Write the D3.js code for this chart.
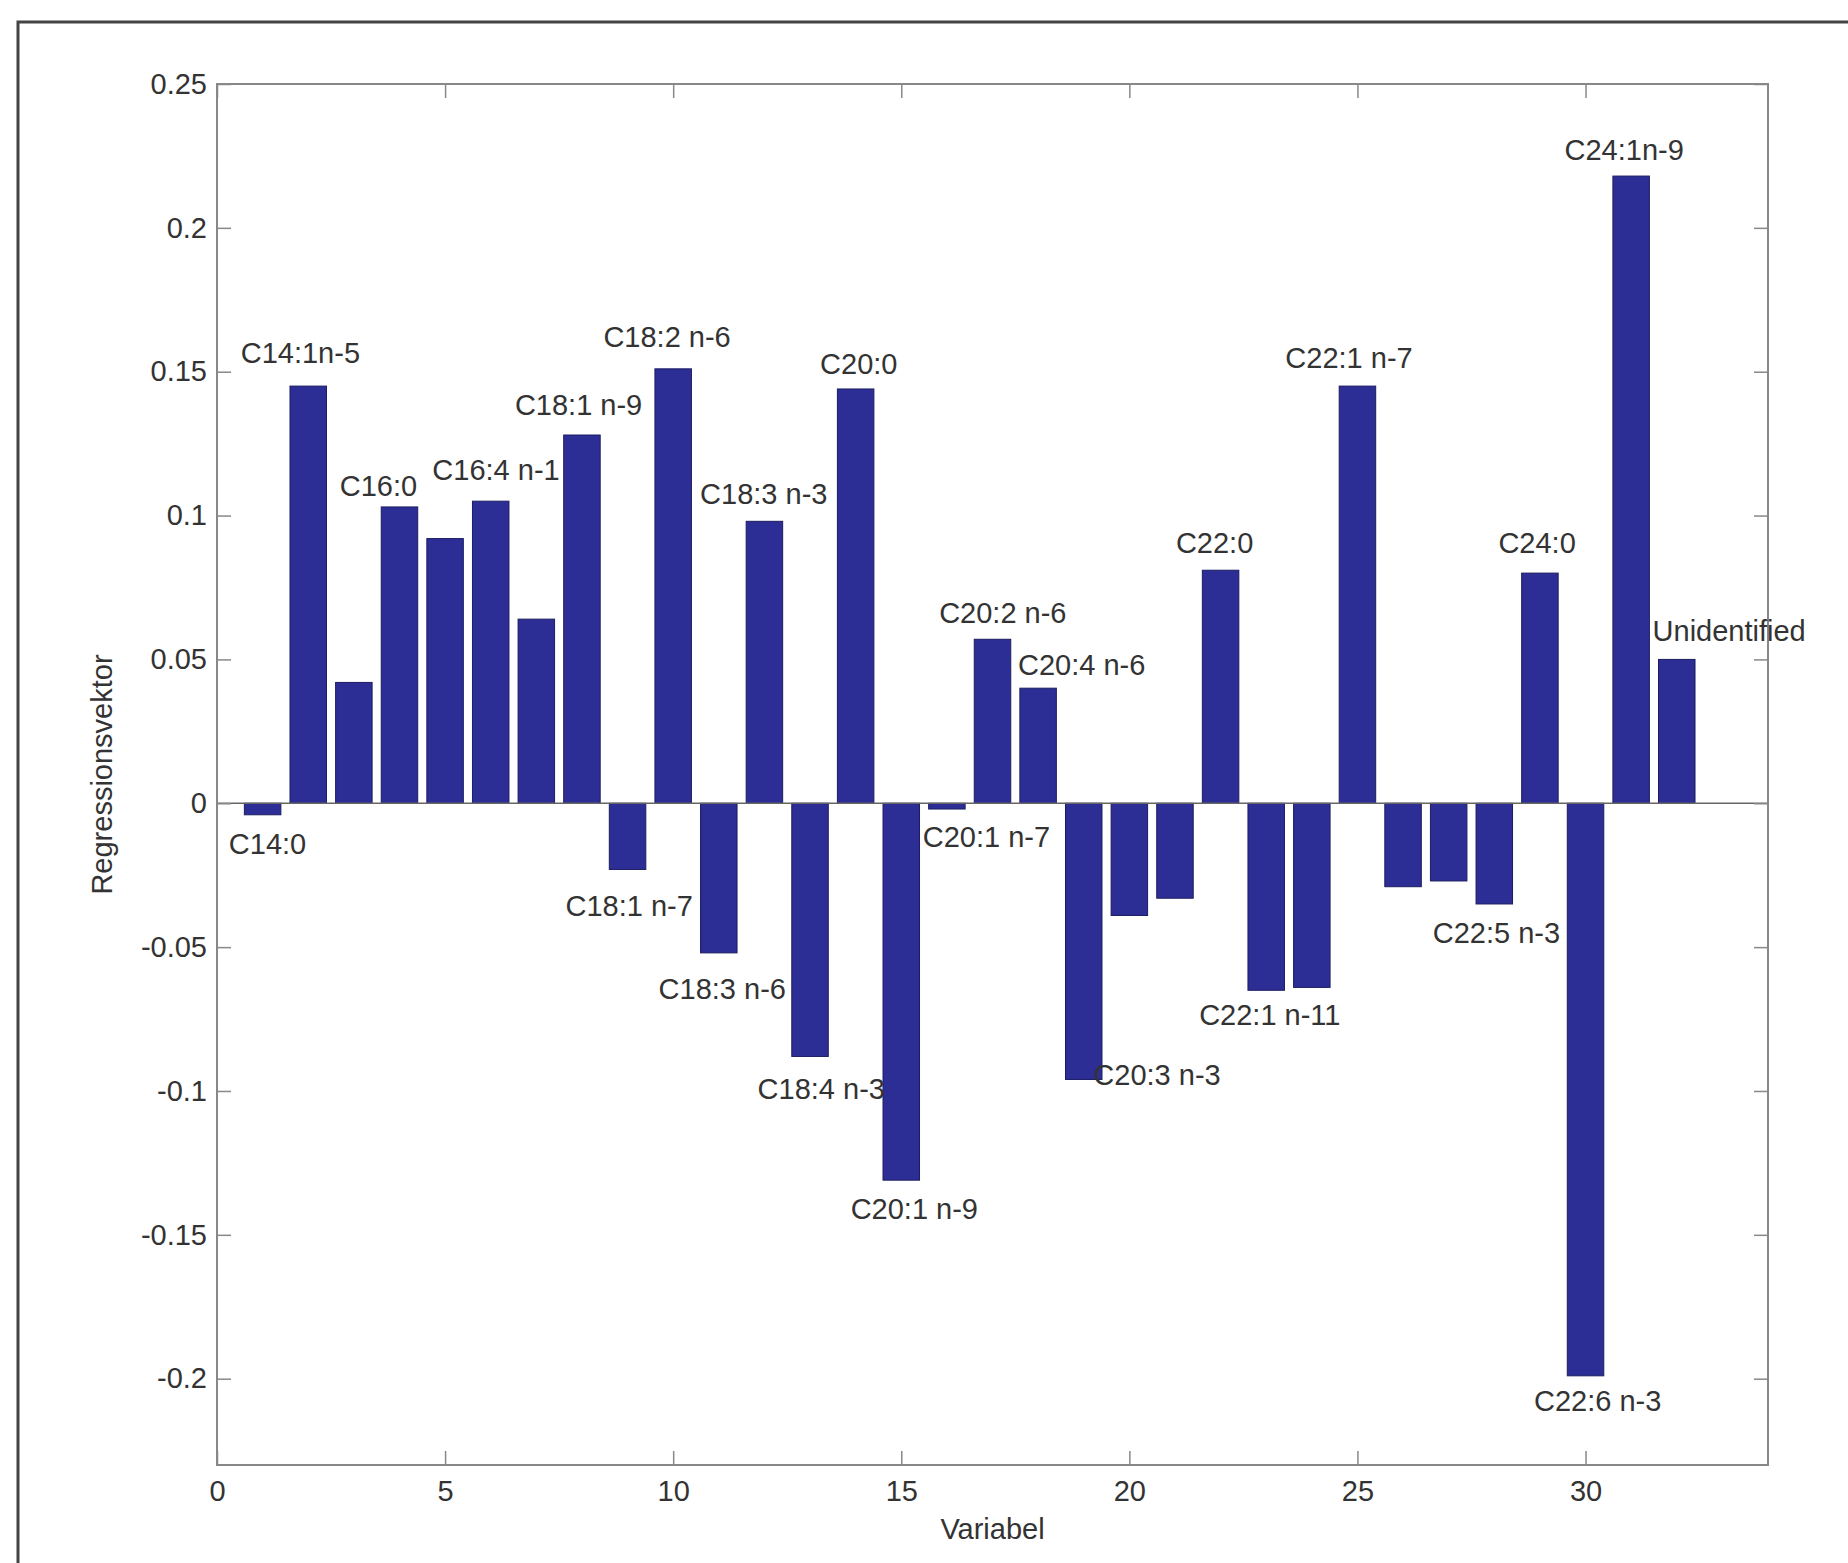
<!DOCTYPE html>
<html>
<head>
<meta charset="utf-8">
<script src="https://cdn.jsdelivr.net/npm/d3@7"></script>
<style>
  body { margin: 0; background: #fff; }
  text { font-family: "Liberation Sans", Arial, Helvetica, sans-serif; fill: #333; }
</style>
</head>
<body>
<div id="chart"></div>
<script>
// bar values, variable 1..32
const values = [
  -0.004, 0.145, 0.042, 0.103, 0.092, 0.105, 0.064, 0.128,
  -0.023, 0.151, -0.052, 0.098, -0.088, 0.144, -0.131, -0.002,
  0.057, 0.040, -0.096, -0.039, -0.033, 0.081, -0.065, -0.064,
  0.145, -0.029, -0.027, -0.035, 0.080, -0.199, 0.218, 0.050
];

// annotation texts and their anchors in data units (left edge, middle)
const labelText = [
  'C14:0', 'C14:1n-5', 'C16:0', 'C16:4 n-1', 'C18:1 n-9', 'C18:2 n-6',
  'C18:3 n-3', 'C20:0', 'C18:1 n-7', 'C18:3 n-6', 'C18:4 n-3', 'C20:1 n-9',
  'C20:1 n-7', 'C20:2 n-6', 'C20:4 n-6', 'C20:3 n-3', 'C22:0', 'C22:1 n-11',
  'C22:1 n-7', 'C22:5 n-3', 'C24:0', 'C22:6 n-3', 'C24:1n-9', 'Unidentified'
];
const labelX = [
  0.26, 0.52, 2.69, 4.72, 6.53, 8.47,
  10.59, 13.22, 7.64, 9.68, 11.85, 13.89,
  15.47, 15.83, 17.56, 19.21, 21.02, 21.53,
  23.42, 26.65, 28.09, 28.87, 29.54, 31.47
];
const labelY = [
  -0.0148, 0.1556, 0.1096, 0.1149, 0.1375, 0.1613,
  0.1067, 0.1519, -0.0365, -0.0653, -0.1002, -0.1420,
  -0.0127, 0.0653, 0.0472, -0.0952, 0.0895, -0.0743,
  0.1539, -0.0460, 0.0895, -0.2085, 0.2262, 0.0591
];

const xTicks = [0, 5, 10, 15, 20, 25, 30];
const yTicks = [-0.2, -0.15, -0.1, -0.05, 0, 0.05, 0.1, 0.15, 0.2, 0.25];

const dims = { width: 1848, height: 1563 };
const plot = { left: 217, right: 1768, top: 84, bottom: 1465 };

const svg = d3.select('#chart')
    .append('svg')
    .attr('width', dims.width)
    .attr('height', dims.height);

// outer figure frame
svg.append('rect')
    .attr('x', 18).attr('y', 22)
    .attr('width', dims.width + 20).attr('height', dims.height + 20)
    .attr('fill', 'none')
    .attr('stroke', '#444')
    .attr('stroke-width', 3);

const x = d3.scaleLinear().domain([0, 34]).range([plot.left, plot.right]);
const y = d3.scaleLinear().domain([-0.23, 0.25]).range([plot.bottom, plot.top]);

const fmt = d => d === 0 ? '0' : String(+d.toFixed(2));
const tickLen = 14;
const axisColor = '#888';

// bars
const barW = x(0.8) - x(0);
svg.append('g')
    .selectAll('rect')
    .data(values)
    .enter()
    .append('rect')
    .attr('x', (d, i) => x(i + 1) - barW / 2)
    .attr('y', d => y(Math.max(0, d)))
    .attr('width', barW)
    .attr('height', d => Math.abs(y(d) - y(0)))
    .attr('fill', '#2c2e96')
    .attr('stroke', '#1c1d60')
    .attr('stroke-width', 1);

// zero baseline
svg.append('line')
    .attr('x1', plot.left).attr('x2', plot.right)
    .attr('y1', y(0)).attr('y2', y(0))
    .attr('stroke', '#666')
    .attr('stroke-width', 1.5);

// axes box with inward ticks on all sides
const axes = svg.append('g');
axes.append('rect')
    .attr('x', plot.left).attr('y', plot.top)
    .attr('width', plot.right - plot.left)
    .attr('height', plot.bottom - plot.top)
    .attr('fill', 'none')
    .attr('stroke', axisColor)
    .attr('stroke-width', 2);

const bottomAxis = d3.axisBottom(x).tickValues(xTicks).tickSize(-tickLen).tickPadding(tickLen + 1).tickFormat(d3.format('d'));
const topAxis = d3.axisTop(x).tickValues(xTicks).tickSize(-tickLen).tickFormat('');
const leftAxis = d3.axisLeft(y).tickValues(yTicks).tickSize(-tickLen).tickPadding(tickLen - 4).tickFormat(fmt);
const rightAxis = d3.axisRight(y).tickValues(yTicks).tickSize(-tickLen).tickFormat('');

const styleAxis = g => {
    g.select('.domain').remove();
    g.selectAll('.tick line').attr('stroke', axisColor).attr('stroke-width', 1.5);
    g.selectAll('.tick text')
        .attr('fill', '#333')
        .style('font-size', '29px')
        .style('font-family', '"Liberation Sans", Arial, sans-serif');
};

axes.append('g').attr('transform', `translate(0,${plot.bottom})`).call(bottomAxis).call(styleAxis);
axes.append('g').attr('transform', `translate(0,${plot.top})`).call(topAxis).call(styleAxis);
axes.append('g').attr('transform', `translate(${plot.left},0)`).call(leftAxis).call(styleAxis);
axes.append('g').attr('transform', `translate(${plot.right},0)`).call(rightAxis).call(styleAxis);

// annotations
svg.append('g')
    .selectAll('text')
    .data(labelText)
    .enter()
    .append('text')
    .attr('x', (d, i) => x(labelX[i]))
    .attr('y', (d, i) => y(labelY[i]))
    .attr('dominant-baseline', 'middle')
    .style('font-size', '29px')
    .text(d => d);

// axis titles
svg.append('text')
    .attr('x', (plot.left + plot.right) / 2)
    .attr('y', 1531)
    .attr('text-anchor', 'middle')
    .attr('dominant-baseline', 'middle')
    .style('font-size', '29px')
    .text('Variabel');

svg.append('text')
    .attr('transform', `translate(104,${(plot.top + plot.bottom) / 2}) rotate(-90)`)
    .attr('text-anchor', 'middle')
    .attr('dominant-baseline', 'middle')
    .style('font-size', '29px')
    .text('Regressionsvektor');
</script>
</body>
</html>
